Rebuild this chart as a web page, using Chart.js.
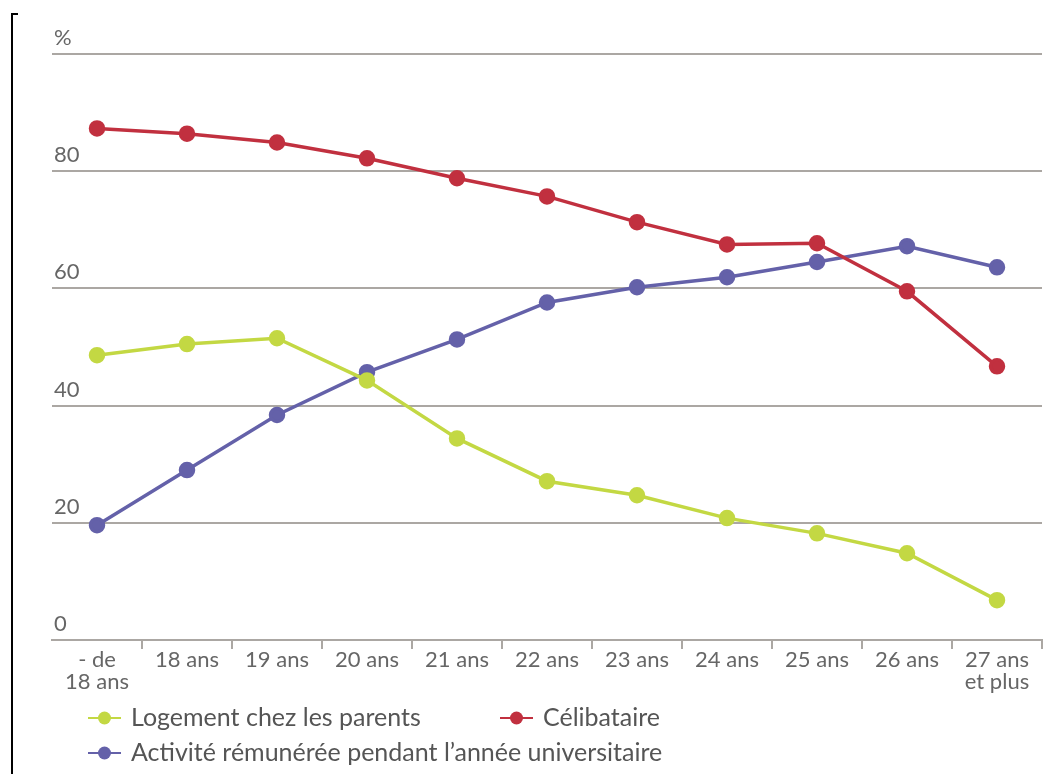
<!DOCTYPE html>
<html>
<head>
<meta charset="utf-8">
<script src="https://cdn.jsdelivr.net/npm/chart.js@4"></script>
<style>
  html, body { margin: 0; padding: 0; background: #fff; }
  #wrap { position: relative; width: 1061px; height: 774px; }
  #frame { position: absolute; left: 11px; top: 13px; width: 5px; height: 761px;
           border-left: 2px solid #000; border-top: 2px solid #000; }
</style>
</head>
<body>
<div id="wrap">
  <canvas id="lineChart" width="1061" height="774"></canvas>
  <div id="frame"></div>
</div>
<script>
const ageLabels = [["- de", "18 ans"], "18 ans", "19 ans", "20 ans", "21 ans", "22 ans",
                   "23 ans", "24 ans", "25 ans", "26 ans", ["27 ans", "et plus"]];

const logementParents = [48.6, 50.5, 51.5, 44.3, 34.4, 27.1, 24.7, 20.8, 18.2, 14.8, 6.8];
const celibataire = [87.3, 86.4, 84.9, 82.2, 78.8, 75.7, 71.3, 67.5, 67.7, 59.5, 46.7];
const activiteRemuneree = [19.6, 29.0, 38.4, 45.7, 51.3, 57.6, 60.2, 61.9, 64.5, 67.2, 63.6];

const yTicks = [0, 20, 40, 60, 80, 100];

const textGrey = "#666666";
const gridGrey = "#aba7a3";
const fontName = "Lato";

function serie(label, data, color) {
    return {
        label: label,
        data: data,
        borderColor: color,
        backgroundColor: color,
        pointBackgroundColor: color,
        pointBorderColor: color,
        borderWidth: 3.5,
        pointRadius: 6.5,
        pointHoverRadius: 6.5,
        tension: 0
    };
}

// legend drawn by hand, two columns like the original
const legendPlugin = {
    id: "handLegend",
    afterDraw(chart) {
        const ctx = chart.ctx;
        const spots = [[88, 718], [500, 718], [88, 753]];
        ctx.save();
        ctx.font = "25px " + fontName;
        ctx.textBaseline = "middle";
        chart.data.datasets.forEach((ds, i) => {
            const [x, y] = spots[i];
            ctx.strokeStyle = ds.borderColor;
            ctx.fillStyle = ds.borderColor;
            ctx.lineWidth = 2;
            ctx.beginPath();
            ctx.moveTo(x, y);
            ctx.lineTo(x + 33, y);
            ctx.stroke();
            ctx.beginPath();
            ctx.arc(x + 16.5, y, 6.5, 0, Math.PI * 2);
            ctx.fill();
            ctx.fillStyle = "#555555";
            ctx.fillText(ds.label, x + 43, y);
        });
        ctx.restore();
    }
};

const myChart = new Chart("lineChart", {
    type: "line",
    data: {
        labels: ageLabels,
        datasets: [
            serie("Logement chez les parents", logementParents, "#c3d843"),
            serie("Célibataire", celibataire, "#c1303f"),
            serie("Activité rémunérée pendant l’année universitaire", activiteRemuneree, "#6461a9")
        ]
    },
    options: {
        responsive: false,
        animation: false,
        layout: { padding: { left: 52, right: 19, top: 54, bottom: 0 } },
        plugins: {
            legend: { display: false },
            tooltip: { enabled: false }
        },
        scales: {
            x: {
                offset: true,
                grid: {
                    offset: true,
                    drawOnChartArea: false,
                    color: (c) => c.index === 0 ? "rgba(0,0,0,0)" : gridGrey,
                    tickLength: 9,
                    lineWidth: 2
                },
                border: { color: gridGrey, width: 2 },
                ticks: {
                    color: textGrey,
                    font: { family: fontName, size: 22, lineHeight: 1.0 },
                    padding: 0,
                    maxRotation: 0,
                    autoSkip: false
                },
                afterFit: (scale) => { scale.height = 134; }
            },
            y: {
                min: 0,
                max: 100,
                afterBuildTicks: (scale) => { scale.ticks = yTicks.map(v => ({ value: v })); },
                grid: { color: gridGrey, lineWidth: 2, drawTicks: false },
                border: { display: false },
                ticks: {
                    mirror: true,
                    padding: 2,
                    labelOffset: -16,
                    color: textGrey,
                    font: { family: fontName, size: 22 },
                    callback: (v) => v === 100 ? "%" : v
                },
                afterFit: (scale) => { scale.width = 0; }
            }
        }
    },
    plugins: [legendPlugin]
});
</script>
</body>
</html>
